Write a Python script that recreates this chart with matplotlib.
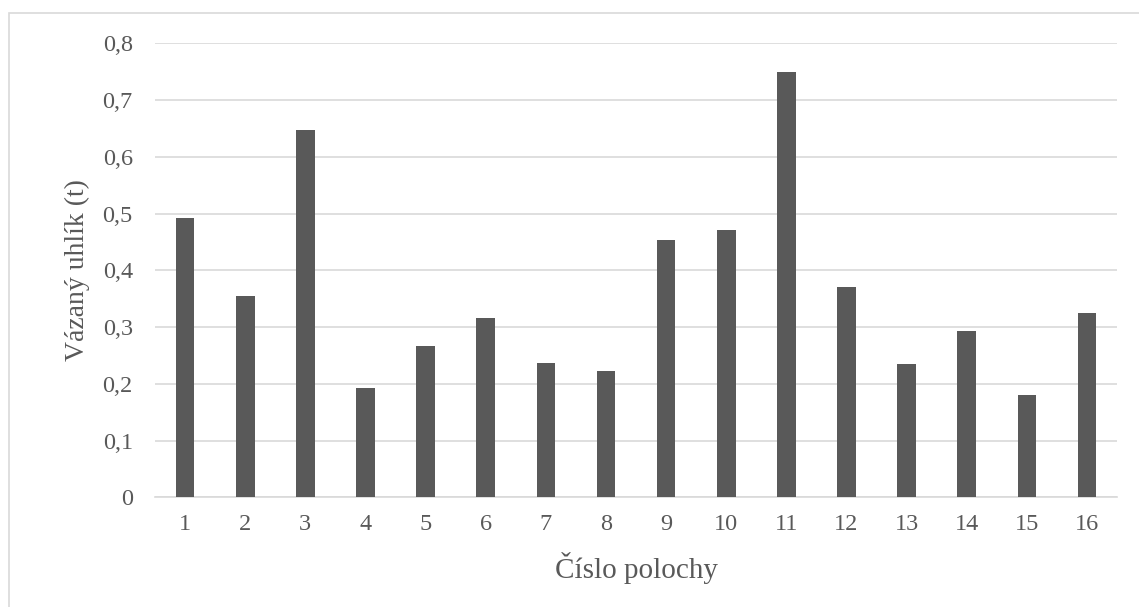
import matplotlib
matplotlib.use('Agg')
import matplotlib.pyplot as plt
from matplotlib.patches import Rectangle
from matplotlib.ticker import FuncFormatter

# data
plochy = [str(i) for i in range(1, 17)]
uhlik = [0.492, 0.355, 0.647, 0.193, 0.266, 0.316, 0.237, 0.222,
         0.454, 0.471, 0.749, 0.371, 0.235, 0.293, 0.181, 0.324]
y_ticks = [0, 0.1, 0.2, 0.3, 0.4, 0.5, 0.6, 0.7, 0.8]

plt.rcParams['font.family'] = ['Liberation Serif', 'DejaVu Serif']

fig = plt.figure(figsize=(11.39, 6.07), dpi=100)
ax = fig.add_axes([0.1361, 0.1807, 0.8446, 0.748])

# outer frame (only top and left edges visible in the original)
fig.patches.append(Rectangle((9 / 1139, -0.05), 1.2, 1 - 13 / 607 + 0.05,
                             transform=fig.transFigure, fill=False,
                             edgecolor='#d9d9d9', lw=1.2))

x = list(range(len(plochy)))
ax.bar(x, uhlik, width=0.31, color='#595959', zorder=3)

ax.set_xlim(-0.5, len(plochy) - 0.5)
ax.set_ylim(0, 0.8)
ax.set_yticks(y_ticks)
ax.yaxis.set_major_formatter(FuncFormatter(
    lambda v, p: '0' if v == 0 else f'{v:.1f}'.replace('.', ',')))
ax.set_xticks(x)
ax.set_xticklabels(plochy)

ax.grid(axis='y', color='#d9d9d9', lw=1.2, zorder=0)
for s in ['top', 'right', 'left']:
    ax.spines[s].set_visible(False)
ax.spines['bottom'].set_color('#d9d9d9')
ax.spines['bottom'].set_linewidth(1.2)
ax.tick_params(length=0, labelsize=17.5, colors='#595959')
ax.tick_params(axis='y', pad=16)
ax.tick_params(axis='x', pad=12)

ax.set_xlabel('Číslo polochy', fontsize=21, color='#595959', labelpad=12)
ax.set_ylabel('Vázaný uhlík (t)', fontsize=20, color='#595959', labelpad=9)

fig.savefig('out.png', dpi=100, facecolor='white')
